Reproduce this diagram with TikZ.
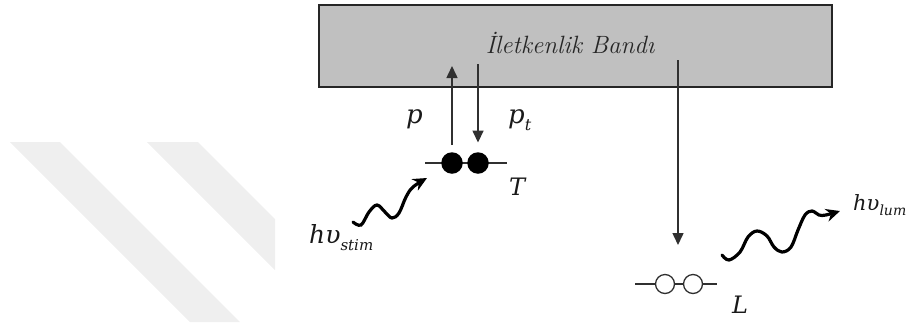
\documentclass[tikz,border=0pt]{standalone}
\usepackage{fontspec}
\newfontfamily\lblfont{DejaVu Serif}
\usetikzlibrary{arrows.meta}
\definecolor{bandgray}{HTML}{C0C0C0}
\definecolor{wmgray}{HTML}{EFEFEF}
\definecolor{linegray}{HTML}{303030}
\begin{document}
\begin{tikzpicture}[x=1pt,y=-1pt,
  lbl/.style={inner sep=0pt, text=black!90},
  arr/.style={draw=linegray, line width=1.5pt, -{Triangle[length=12pt,width=11pt]}},
  level/.style={draw=linegray, line width=1.3pt},
  fulldot/.style={circle, fill=black, inner sep=0pt, minimum size=21.5pt},
  opendot/.style={circle, draw=linegray, fill=white, line width=1.3pt, inner sep=0pt, minimum size=19pt},
  wave/.style={draw=black, line width=3.2pt, line cap=round, -{Stealth[length=14pt,width=13pt]}},
  bandbox/.style={draw=black!85, line width=1.8pt, fill=bandgray, inner sep=0pt, minimum width=513pt, minimum height=82pt}]
\useasboundingbox (0,0) rectangle (912,322);
% watermark stripes
\fill[wmgray] (10,142) -- (60,142) -- (240,322) -- (190,322) -- cycle;
\fill[wmgray] (147,142) -- (198,142) -- (275,219) -- (275,270) -- cycle;
% conduction band
\node[bandbox] (band) at (575.5,46) {};
\node[inner sep=0pt, text=black!85, font=\fontsize{25}{30}\selectfont\itshape] (title) at (570,43) {İletkenlik Bandı};
% trap level T
\coordinate (tl) at (425,163);
\coordinate (tr) at (507,163);
\draw[level] (tl) -- (tr);
\node[fulldot] (t1) at (452,163) {};
\node[fulldot] (t2) at (478,163) {};
\coordinate (ptop) at (452,66);
\coordinate (pttop) at (478,64);
\draw[arr, shorten <=7pt] (t1.north) -- (ptop);
\draw[arr, shorten >=9.5pt] (pttop) -- (t2.north);
% luminescence level L
\coordinate (ll) at (635,284);
\coordinate (lr) at (717,284);
\draw[level] (ll) -- (lr);
\node[opendot] (l1) at (665,284) {};
\node[opendot] (l2) at (693,284) {};
\coordinate (ltop) at (678,60);
\coordinate (lend) at (678,245);
\draw[arr] (ltop) -- (lend);
% photons
\draw[wave] plot[smooth, tension=0.6] coordinates {(353,222) (361,225) (369,212) (377,205) (385,212) (392,218) (399,213) (406,197) (413,187) (427,178)};
\draw[wave] plot[smooth, tension=0.6] coordinates {(722,255) (729,260) (740,252) (748,237) (757,231) (767,236) (774,247) (782,252) (791,247) (798,230) (805,215) (812,211) (819,215) (826,215) (840,211)};
% labels
\node[lbl, anchor=base west] (p) at (406,123) {\lblfont\itshape\fontsize{26}{30}\selectfont p};
\node[lbl, anchor=base west] (pt) at (508,123) {\lblfont\itshape\fontsize{26}{30}\selectfont p\raisebox{-7pt}{\fontsize{16}{18}\selectfont t}};
\node[lbl, anchor=base west] (T) at (509,195) {\lblfont\itshape\fontsize{24}{28}\selectfont T};
\node[lbl, anchor=base west] (stim) at (309,243) {\lblfont\itshape\fontsize{25}{28}\selectfont hυ\raisebox{-7pt}{\fontsize{15}{17}\selectfont stim}};
\node[lbl, anchor=base west] (lum) at (853,210) {\lblfont\itshape\fontsize{21}{24}\selectfont hυ\raisebox{-5pt}{\fontsize{14}{16}\selectfont lum}};
\node[lbl, anchor=base west] (L) at (732,313) {\lblfont\itshape\fontsize{24}{28}\selectfont L};
\end{tikzpicture}
\end{document}
